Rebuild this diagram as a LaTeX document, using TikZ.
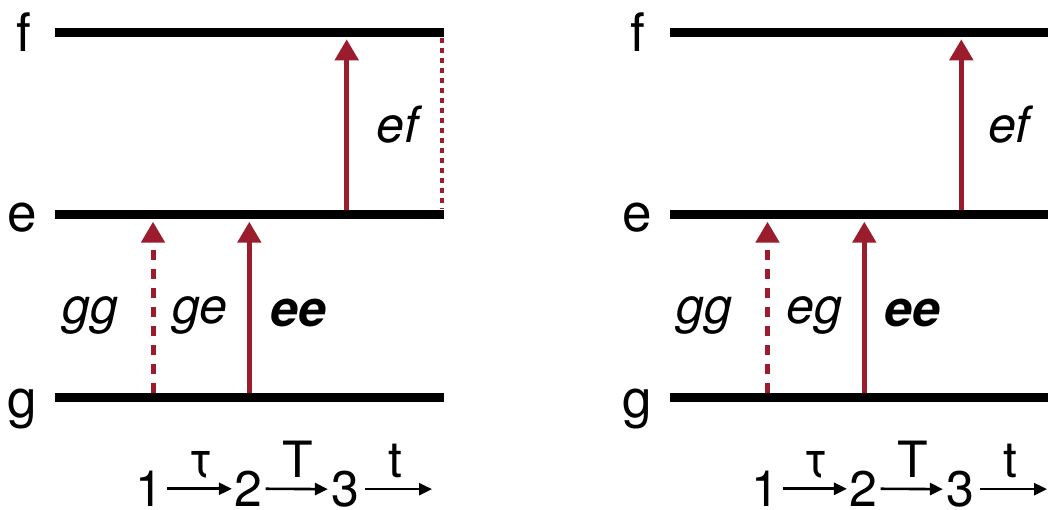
\documentclass[tikz,border=0pt]{standalone}
\usepackage{fontspec}
\setmainfont{TeX Gyre Heros}
\usetikzlibrary{arrows.meta,calc}
\definecolor{darkred}{HTML}{9B1C2C}
\begin{document}
\begin{tikzpicture}[x=1pt,y=-1pt,
  level/.style={line width=9pt},
  trans/.style={draw=darkred,line width=5pt,-{Triangle[length=21pt,width=23pt]}},
  transdash/.style={trans,dash pattern=on 10pt off 9pt},
  coh/.style={draw=darkred,line width=4.8pt,dash pattern=on 4.2pt off 5.8pt},
  lvl/.style={font=\fontsize{53}{60}\selectfont,inner sep=0pt},
  lbl/.style={font=\fontsize{50}{60}\selectfont\itshape,inner sep=0pt},
  lblb/.style={font=\fontsize{50}{60}\selectfont\bfseries\itshape,inner sep=0pt},
  num/.style={font=\fontsize{50}{60}\selectfont,inner sep=0pt,anchor=base},
  tarr/.style={line width=2.6pt,-{Triangle[length=13pt,width=12pt]}},
]
\useasboundingbox (0,0) rectangle (1048,510);
\clip (0,0) rectangle (1048,510);

% ---------------- left panel ----------------
\coordinate (LfA) at (55,32.3);  \coordinate (LfB) at (444,32.3);
\coordinate (LeA) at (55,214.7); \coordinate (LeB) at (444,214.7);
\coordinate (LgA) at (55,397.8); \coordinate (LgB) at (444,397.8);
\draw[level] (LfA) -- (LfB);
\draw[level] (LeA) -- (LeB);
\draw[level] (LgA) -- (LgB);
\node[lvl] (Lf) at (23.5,32.5) {f};
\node[lvl] (Le) at (22.5,218) {e};
\node[lvl] (Lg) at (22.5,408.5) {g};

\coordinate (La1b) at (153,393.3); \coordinate (La1t) at (153,221.7);
\coordinate (La2b) at (249.3,393.3); \coordinate (La2t) at (249.3,221.7);
\coordinate (La3b) at (346.7,210); \coordinate (La3t) at (346.7,39.3);
\coordinate (Ldt) at (442,38.5); \coordinate (Ldb) at (442,209);
\draw[transdash] (La1b) -- (La1t);
\draw[trans] (La2b) -- (La2t);
\draw[trans] (La3b) -- (La3t);
\draw[coh] (Ldt) -- (Ldb);

\node[lbl] (Lgg) at (90,315.8) {gg};
\node[lbl] (Lge) at (200,315.8) {ge};
\node[lblb] (Lee) at (298.5,312.5) {ee};
\node[lbl] (Lef) at (397.5,125) {ef};

\node[num] (Ln1) at (149.5,506.5) {1};
\node[num] (Ln2) at (248.5,506.5) {2};
\node[num] (Ln3) at (345,506.5) {3};
\coordinate (Lend) at (432,490.7);
\draw[tarr] ($(Ln1.east)+(3.5,0)$) -- ($(Ln2.west)+(-2.5,0)$);
\draw[tarr] ($(Ln2.east)+(3,0)$) -- ($(Ln3.west)+(-3,0)$);
\draw[tarr] ($(Ln3.east)+(6,0)$) -- (Ln3.east -| Lend);
\node[num] (Ltau) at (201,477) {τ};
\node[num] (LT) at (298,477) {T};
\node[num] (Lt) at (395,477) {t};

% ---------------- right panel ----------------
\begin{scope}[xshift=615pt]
\coordinate (RfA) at (55,32.3);  \coordinate (RfB) at (500,32.3);
\coordinate (ReA) at (55,214.7); \coordinate (ReB) at (500,214.7);
\coordinate (RgA) at (55,397.8); \coordinate (RgB) at (500,397.8);
\draw[level] (RfA) -- (RfB);
\draw[level] (ReA) -- (ReB);
\draw[level] (RgA) -- (RgB);
\node[lvl] (Rf) at (22.5,32.5) {f};
\node[lvl] (Re) at (22.5,218) {e};
\node[lvl] (Rg) at (22,408.5) {g};

\coordinate (Ra1b) at (152.5,393.3); \coordinate (Ra1t) at (152.5,221.7);
\coordinate (Ra2b) at (249.3,393.3); \coordinate (Ra2t) at (249.3,221.7);
\coordinate (Ra3b) at (346.3,210); \coordinate (Ra3t) at (346.3,39.3);
\draw[transdash] (Ra1b) -- (Ra1t);
\draw[trans] (Ra2b) -- (Ra2t);
\draw[trans] (Ra3b) -- (Ra3t);

\node[lbl] (Rgg) at (89,315.8) {gg};
\node[lbl] (Reg) at (199,315.8) {eg};
\node[lblb] (Ree) at (297.3,312.5) {ee};
\node[lbl] (Ref) at (394,125) {ef};

\node[num] (Rn1) at (150,506.5) {1};
\node[num] (Rn2) at (248.5,506.5) {2};
\node[num] (Rn3) at (345,506.5) {3};
\coordinate (Rend) at (432,490.7);
\draw[tarr] ($(Rn1.east)+(3.5,0)$) -- ($(Rn2.west)+(-2.5,0)$);
\draw[tarr] ($(Rn2.east)+(3,0)$) -- ($(Rn3.west)+(-3,0)$);
\draw[tarr] ($(Rn3.east)+(6,0)$) -- (Rn3.east -| Rend);
\node[num] (Rtau) at (201,477) {τ};
\node[num] (RT) at (298,477) {T};
\node[num] (Rt) at (395,477) {t};
\end{scope}
\end{tikzpicture}
\end{document}
